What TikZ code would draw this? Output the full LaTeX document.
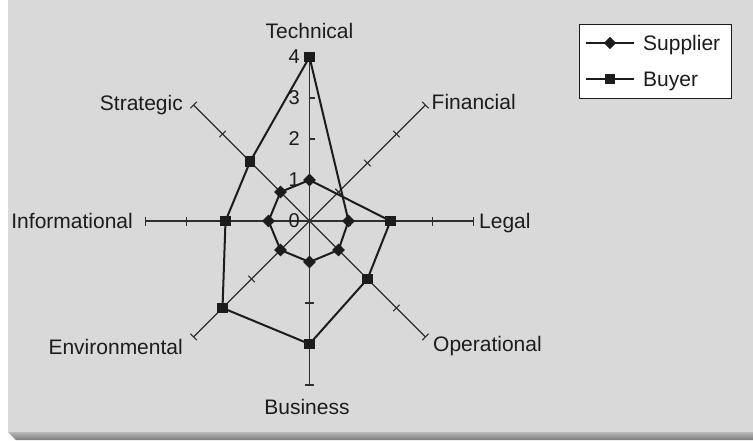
\documentclass[tikz,border=0pt]{standalone}
\usepackage{fontspec}
\setmainfont{Liberation Sans}
\usetikzlibrary{shapes.geometric}
\definecolor{bg}{HTML}{D9D9D9}
\definecolor{ink}{HTML}{1C1C1C}
\definecolor{axiscol}{HTML}{2E2E2E}
\definecolor{shadetop}{HTML}{B8B8B8}
\definecolor{shadebot}{HTML}{7C7C7C}
\begin{document}
\begin{tikzpicture}[x=1pt,y=1pt,
  lbl/.style={font=\fontsize{21}{25}\selectfont, text=ink, inner sep=0pt},
  num/.style={font=\fontsize{20}{24}\selectfont, text=ink, inner sep=0pt},
  sdia/.style={diamond, fill=ink, inner sep=0pt, minimum size=13pt},
  bsq/.style={rectangle, fill=ink, inner sep=0pt, minimum size=10.5pt},
  dataline/.style={draw=ink, line width=2pt, line join=round},
  axisline/.style={draw=axiscol, line width=1.1pt},
  legline/.style={draw=ink, line width=1.2pt},
]
\useasboundingbox (0,0) rectangle (753,440);
% background panel with bottom shadow
\fill[bg] (8,8) rectangle (753,440);
\shade[top color=shadetop, bottom color=shadebot] (8,8) -- (753,8) -- (753,0) -- (16,0) -- cycle;

\begin{scope}[shift={(309.5,219)}]
  \coordinate (O) at (0,0);
  % axis ends
  \coordinate (aT) at (90:164);
  \coordinate (aF) at (45:164);
  \coordinate (aL) at (0:164);
  \coordinate (aO) at (-45:164);
  \coordinate (aB) at (-90:164);
  \coordinate (aE) at (-135:164);
  \coordinate (aI) at (180:164);
  \coordinate (aS) at (135:164);
  \foreach \e in {aT,aF,aL,aO,aB,aE,aI,aS}{\draw[axisline] (O) -- (\e);}
  % tick marks across the axes
  \foreach \a in {0,45,135,180,225,270,315}{
    \foreach \k in {1,2,3,4}{
      \draw[axisline, rotate=\a] (41*\k,-4.5) -- (41*\k,4.5);
    }
  }
  % value axis ticks (right side only)
  \foreach \k in {1,2,3,4}{\draw[axisline] (0,41*\k) -- (5.5,41*\k);}
  % value labels
  \foreach \k in {0,1,2,3,4}{\node[num, anchor=east] (v\k) at (-9.5,41*\k) {\k};}

  % supplier points
  \coordinate (sT) at (90:41);
  \coordinate (sL) at (0:39);
  \coordinate (sO) at (-45:41);
  \coordinate (sB) at (-90:41);
  \coordinate (sE) at (-135:41);
  \coordinate (sI) at (180:41);
  \coordinate (sS) at (135:41);
  % buyer points
  \coordinate (bT) at (90:164);
  \coordinate (bL) at (0:81);
  \coordinate (bO) at (-45:82);
  \coordinate (bB) at (-90:123);
  \coordinate (bE) at (-135:123);
  \coordinate (bI) at (180:84);
  \coordinate (bS) at (135:84);

  \draw[dataline] (sL) -- (sO) -- (sB) -- (sE) -- (sI) -- (sS) -- (sT) -- (bL);
  \draw[dataline] (bL) -- (bO) -- (bB) -- (bE) -- (bI) -- (bS) -- (bT) -- (sL);

  \foreach \p in {sT,sL,sO,sB,sE,sI,sS}{\node[sdia] (m\p) at (\p) {};}
  \foreach \p in {bT,bL,bO,bB,bE,bI,bS}{\node[bsq] (m\p) at (\p) {};}
\end{scope}

% category labels
\node[lbl, anchor=base] (tTech) at (309.5,401.5) {Technical};
\node[lbl, anchor=base west] (tFin) at (431.5,330.7) {Financial};
\node[lbl, anchor=base west] (tLeg) at (479,211.5) {Legal};
\node[lbl, anchor=base west] (tOp) at (433,89) {Operational};
\node[lbl, anchor=base] (tBus) at (307,26) {Business};
\node[lbl, anchor=base east] (tEnv) at (183,86) {Environmental};
\node[lbl, anchor=base east] (tInf) at (133,211.5) {Informational};
\node[lbl, anchor=base east] (tStr) at (183,329.3) {Strategic};

% legend
\node[draw=ink, fill=white, line width=1.2pt, minimum width=152pt, minimum height=74pt, inner sep=0pt, anchor=north west] (leg) at (579,416) {};
\coordinate (l1a) at (586,397);
\coordinate (l1b) at (634,397);
\coordinate (l2a) at (586,361);
\coordinate (l2b) at (634,361);
\draw[legline] (l1a) -- (l1b);
\draw[legline] (l2a) -- (l2b);
\node[sdia, minimum size=12.5pt] (ld) at (610,397) {};
\node[bsq, minimum size=10pt] (lq) at (610,361) {};
\node[lbl, anchor=base west] (tSup) at (643,389.5) {Supplier};
\node[lbl, anchor=base west] (tBuy) at (643,353.5) {Buyer};
\end{tikzpicture}
\end{document}
